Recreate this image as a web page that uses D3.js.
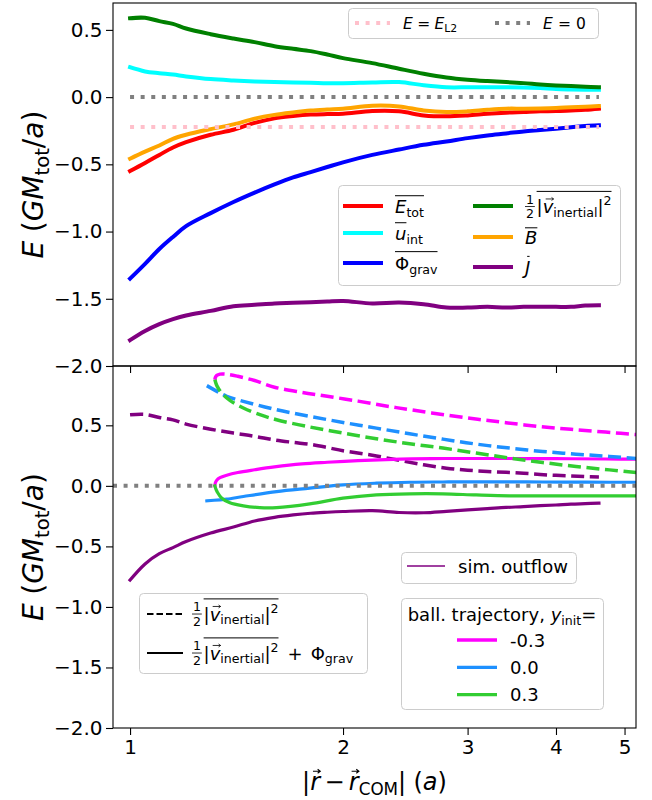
<!DOCTYPE html>
<html>
<head>
<meta charset="utf-8">
<script src="https://cdn.jsdelivr.net/npm/d3@7"></script>
<style>
  html, body { margin: 0; padding: 0; background: #fff; }
  svg text { font-family: "DejaVu Sans", sans-serif; white-space: pre; }
</style>
</head>
<body>
<svg id="chart" width="652" height="800"></svg>
<script>
// ---------- simulation radial profiles (energies in G M_tot / a) ----------
const radius   = [1.0, 1.05, 1.1, 1.15, 1.2, 1.3, 1.4, 1.5, 1.6, 1.7, 1.8, 1.9, 2.0, 2.2, 2.4, 2.6, 2.8, 3.0, 3.2, 3.4, 3.6, 3.8, 4.0, 4.2, 4.4, 4.6];
const eTot     = [-0.55, -0.49, -0.43, -0.375, -0.335, -0.28, -0.243, -0.192, -0.158, -0.141, -0.13, -0.126, -0.124, -0.104, -0.106, -0.136, -0.143, -0.136, -0.124, -0.116, -0.111, -0.106, -0.104, -0.099, -0.094, -0.086];
const uInt     = [0.222, 0.191, 0.178, 0.168, 0.154, 0.134, 0.124, 0.117, 0.112, 0.109, 0.107, 0.104, 0.104, 0.109, 0.112, 0.088, 0.073, 0.073, 0.074, 0.074, 0.072, 0.067, 0.06, 0.057, 0.055, 0.055];
const phiGrav  = [-1.35, -1.24, -1.13, -1.04, -0.96, -0.863, -0.78, -0.71, -0.649, -0.597, -0.558, -0.52, -0.485, -0.43, -0.39, -0.355, -0.33, -0.305, -0.285, -0.27, -0.255, -0.245, -0.235, -0.225, -0.215, -0.21];
const kinetic  = [0.587, 0.59, 0.565, 0.545, 0.51, 0.468, 0.436, 0.409, 0.379, 0.359, 0.342, 0.317, 0.29, 0.253, 0.211, 0.174, 0.146, 0.129, 0.119, 0.112, 0.104, 0.094, 0.087, 0.082, 0.077, 0.074];
const magB     = [-0.458, -0.405, -0.36, -0.31, -0.28, -0.238, -0.203, -0.16, -0.132, -0.114, -0.1, -0.092, -0.086, -0.064, -0.069, -0.099, -0.111, -0.106, -0.094, -0.086, -0.086, -0.084, -0.081, -0.076, -0.072, -0.067];
const bernJ    = [-1.808, -1.74, -1.689, -1.652, -1.624, -1.59, -1.555, -1.545, -1.535, -1.53, -1.525, -1.52, -1.516, -1.535, -1.528, -1.54, -1.565, -1.565, -1.56, -1.565, -1.56, -1.56, -1.56, -1.56, -1.55, -1.548];
const outflowTotal = [-0.778, -0.645, -0.56, -0.51, -0.46, -0.39, -0.34, -0.29, -0.26, -0.24, -0.226, -0.218, -0.212, -0.205, -0.22, -0.222, -0.21, -0.198, -0.188, -0.178, -0.172, -0.164, -0.158, -0.151, -0.147, -0.143];
const eL2 = -0.223;

// ---------- ballistic trajectories (parametric in radius) ----------
const ballInit = ["-0.3", "0.0", "0.3"];
const ballRadiusM03 = [1.318, 1.320, 1.326, 1.340, 1.370, 1.420, 1.500, 1.600, 1.750, 1.900, 2.100, 2.300, 2.500, 2.800, 3.100, 3.400, 3.800, 4.200, 4.700, 5.300];
const ballKinM03    = [0.877, 0.895, 0.912, 0.923, 0.922, 0.905, 0.870, 0.815, 0.772, 0.740, 0.700, 0.660, 0.627, 0.585, 0.550, 0.522, 0.489, 0.467, 0.444, 0.420];
const ballTotM03    = [0.000, 0.025, 0.047, 0.068, 0.088, 0.110, 0.133, 0.157, 0.182, 0.195, 0.208, 0.217, 0.223, 0.226, 0.226, 0.226, 0.225, 0.224, 0.222, 0.220];
const ballRadius00  = [1.284, 1.340, 1.370, 1.446, 1.611, 1.795, 2.000, 2.229, 2.484, 2.768, 3.085, 3.440, 3.830, 4.270, 4.760, 5.300];
const ballKin00     = [0.828, 0.767, 0.740, 0.698, 0.629, 0.574, 0.524, 0.477, 0.430, 0.386, 0.345, 0.312, 0.284, 0.262, 0.243, 0.223];
const ballTot00     = [-0.124, -0.115, -0.110, -0.088, -0.047, -0.019, 0.008, 0.022, 0.030, 0.032, 0.033, 0.033, 0.032, 0.031, 0.030, 0.030];
const ballRadiusP03 = [1.318, 1.322, 1.328, 1.347, 1.384, 1.446, 1.526, 1.611, 1.795, 2.000, 2.229, 2.484, 2.768, 3.085, 3.440, 3.830, 4.270, 4.760, 5.300];
const ballKinP03    = [0.877, 0.850, 0.822, 0.767, 0.706, 0.643, 0.588, 0.546, 0.486, 0.436, 0.389, 0.348, 0.312, 0.271, 0.229, 0.193, 0.160, 0.132, 0.105];
const ballTotP03    = [0.000, -0.025, -0.050, -0.100, -0.140, -0.165, -0.180, -0.180, -0.149, -0.102, -0.075, -0.066, -0.066, -0.075, -0.082, -0.083, -0.083, -0.083, -0.083];

const xTicks = [1, 2, 3, 4, 5];
const yTicks = [0.5, 0.0, -0.5, -1.0, -1.5, -2.0];

// ---------- layout ----------
const svg = d3.select("#chart");
const L = 113, R = 636;
const P1 = { t: 3, b: 366 }, P2 = { t: 366, b: 728 };

const x = d3.scaleLog().domain([0.946, 5.19]).range([L, R]);
const yTop = d3.scaleLinear().domain([-2.0, 0.7]).range([P1.b, P1.t]);
const yBot = d3.scaleLinear().domain([-2.0, 0.99]).range([P2.b, P2.t]);

const defs = svg.append("defs");
defs.append("clipPath").attr("id", "clipTop").append("rect")
  .attr("x", L).attr("y", P1.t).attr("width", R - L).attr("height", P1.b - P1.t);
defs.append("clipPath").attr("id", "clipBot").append("rect")
  .attr("x", L).attr("y", P2.t).attr("width", R - L).attr("height", P2.b - P2.t);

// ---------- small mathtext-like renderer ----------
function mathText(parent, tokens, o) {
  const size = o.size, color = o.color || "#000";
  let tf = `translate(${o.x},${o.y})`;
  if (o.rotate) tf += ` rotate(${o.rotate})`;
  const outer = parent.append("g").attr("transform", tf);
  const g = outer.append("g");
  let cx = 0;
  const stack = [], bars = [];
  for (const tok of tokens) {
    if (tok.sp !== undefined) { cx += tok.sp * size; continue; }
    if (tok.ol === "(") { stack.push(cx); continue; }
    if (tok.ol === ")") {
      const x0 = stack.pop();
      const inset = (tok.inset || 0) * size, shift = (tok.shift || 0) * size;
      bars.push([x0 + inset + shift, cx - inset + shift, tok.h || 0.96]);
      continue;
    }
    if (tok.frac) {
      const fs = size * 0.7;
      const a = g.append("text").attr("font-size", fs).attr("fill", color).text(tok.frac[0]);
      const b = g.append("text").attr("font-size", fs).attr("fill", color).text(tok.frac[1]);
      const wa = a.node().getComputedTextLength(), wb = b.node().getComputedTextLength();
      const w = Math.max(wa, wb) + size * 0.1;
      a.attr("x", cx + (w - wa) / 2).attr("y", -size * 0.52);
      b.attr("x", cx + (w - wb) / 2).attr("y", size * 0.3);
      g.append("line").attr("x1", cx).attr("x2", cx + w)
        .attr("y1", -size * 0.36).attr("y2", -size * 0.36)
        .attr("stroke", color).attr("stroke-width", Math.max(0.8, size * 0.045));
      cx += w + size * 0.1;
      continue;
    }
    const small = tok.sub || tok.sup;
    const fs = small ? size * 0.7 : size;
    const dy = tok.sub ? size * 0.22 : (tok.sup ? -size * 0.42 : 0);
    const t = g.append("text").attr("x", cx).attr("y", dy).attr("font-size", fs)
      .attr("xml:space", "preserve").attr("fill", color).text(tok.t);
    if (tok.it) t.attr("font-style", "italic");
    const w = t.node().getComputedTextLength();
    if (tok.vec) {
      const ay = -size * 0.78, x0 = cx + w * 0.28, x1 = cx + w * 1.02, hs = size * 0.11;
      g.append("path")
        .attr("d", `M${x0},${ay}L${x1},${ay}M${x1 - hs},${ay - hs * 0.75}L${x1},${ay}L${x1 - hs},${ay + hs * 0.75}`)
        .attr("fill", "none").attr("stroke", color).attr("stroke-width", Math.max(0.8, size * 0.045));
    }
    cx += w + (tok.ic || 0) * size;
  }
  bars.forEach(([a, b, h]) => {
    g.append("line").attr("x1", a).attr("x2", b).attr("y1", -size * h).attr("y2", -size * h)
      .attr("stroke", color).attr("stroke-width", Math.max(1, size * 0.055));
  });
  if (o.anchor === "middle") g.attr("transform", `translate(${-cx / 2},0)`);
  else if (o.anchor === "end") g.attr("transform", `translate(${-cx},0)`);
  return cx;
}

function legendBox(parent, x0, y0, x1, y1) {
  parent.append("rect")
    .attr("x", x0 + 0.5).attr("y", y0 + 0.5)
    .attr("width", x1 - x0).attr("height", y1 - y0)
    .attr("rx", 4).attr("ry", 4)
    .attr("fill", "#fff").attr("fill-opacity", 0.8)
    .attr("stroke", "#cccccc").attr("stroke-width", 1);
}

// ---------- line helpers ----------
const profile = vals => radius.map((r, i) => ({ r, v: vals[i] }));
const zipRV = (rs, vs) => rs.map((r, i) => ({ r, v: vs[i] }));
const smooth = d3.curveCatmullRom.alpha(0.5);
const lineTop = d3.line().x(d => x(d.r)).y(d => yTop(d.v)).curve(smooth);
const lineBot = d3.line().x(d => x(d.r)).y(d => yBot(d.v)).curve(smooth);

function drawPath(g, d, color, width, dash, cap) {
  const p = g.append("path").attr("d", d).attr("fill", "none")
    .attr("stroke", color).attr("stroke-width", width)
    .attr("stroke-linejoin", "round")
    .attr("stroke-linecap", cap || (dash ? "butt" : "square"));
  if (dash) p.attr("stroke-dasharray", dash);
  return p;
}

const DOT = "4,6.6";
const DASH = "13,5.6";

// ---------- top panel: energy components ----------
const gTop = svg.append("g").attr("clip-path", "url(#clipTop)");
const topSeries = [
  { vals: eTot,    color: "#ff0000" },
  { vals: uInt,    color: "#00ffff" },
  { vals: phiGrav, color: "#0000ff" },
  { vals: kinetic, color: "#008000" },
  { vals: magB,    color: "#ffa500" },
  { vals: bernJ,   color: "#800080" }
];
topSeries.forEach(s => drawPath(gTop, lineTop(profile(s.vals)), s.color, 4));

const rEnds = [radius[0], radius[radius.length - 1]];
drawPath(gTop, lineTop(rEnds.map(r => ({ r, v: eL2 }))), "pink", 4, DOT);
drawPath(gTop, lineTop(rEnds.map(r => ({ r, v: 0 }))), "#808080", 4, DOT);

// ---------- bottom panel: simulated outflow vs. ballistic trajectories ----------
const gBot = svg.append("g").attr("clip-path", "url(#clipBot)");
drawPath(gBot, lineBot(profile(kinetic)), "#800080", 3.5, DASH);
drawPath(gBot, lineBot(profile(outflowTotal)), "#800080", 3.2);

const ballTable = [
  { r: ballRadiusM03, kin: ballKinM03, tot: ballTotM03, color: "#ff00ff" },
  { r: ballRadius00,  kin: ballKin00,  tot: ballTot00,  color: "#1e90ff" },
  { r: ballRadiusP03, kin: ballKinP03, tot: ballTotP03, color: "#32cd32" }
];
ballTable.forEach(b => {
  drawPath(gBot, lineBot(zipRV(b.r, b.kin)), b.color, 3.5, DASH);
  drawPath(gBot, lineBot(zipRV(b.r, b.tot)), b.color, 3.2);
});
drawPath(gBot, lineBot(x.domain().map(r => ({ r, v: 0 }))), "#808080", 4, DOT);

// ---------- axes ----------
const fmtY = d3.format(".1f");
function styleAxis(g) {
  g.select(".domain").remove();
  g.selectAll(".tick line").attr("stroke", "#000").attr("stroke-width", 1.1);
  g.selectAll(".tick text").attr("font-size", 20).attr("fill", "#000")
    .attr("font-family", "DejaVu Sans, sans-serif");
  g.attr("font-family", null);
}
svg.append("g").attr("transform", `translate(${L},0)`)
  .call(d3.axisLeft(yTop).tickValues(yTicks).tickFormat(fmtY).tickSize(7).tickPadding(3.5).tickSizeOuter(0))
  .call(styleAxis);
svg.append("g").attr("transform", `translate(${L},0)`)
  .call(d3.axisLeft(yBot).tickValues(yTicks).tickFormat(fmtY).tickSize(7).tickPadding(3.5).tickSizeOuter(0))
  .call(styleAxis);
svg.append("g").attr("transform", `translate(0,${P1.b})`)
  .call(d3.axisBottom(x).tickValues(xTicks).tickFormat("").tickSize(7).tickSizeOuter(0))
  .call(styleAxis);
svg.append("g").attr("transform", `translate(0,${P2.b})`)
  .call(d3.axisBottom(x).tickValues(xTicks).tickFormat(d3.format("d")).tickSize(7).tickPadding(5).tickSizeOuter(0))
  .call(styleAxis);

// frames
[P1, P2].forEach(p => {
  svg.append("rect").attr("x", L).attr("y", p.t).attr("width", R - L).attr("height", p.b - p.t)
    .attr("fill", "none").attr("stroke", "#000").attr("stroke-width", 1.1);
});

// axis labels
const yLabelTokens = [
  { t: "E", it: 1 }, { sp: 0.3 }, { t: "(" }, { t: "GM", it: 1 }, { t: "tot", sub: 1 },
  { t: "/" }, { t: "a", it: 1 }, { t: ")" }
];
mathText(svg, yLabelTokens, { x: 43, y: (P1.t + P1.b) / 2, size: 28, rotate: -90, anchor: "middle" });
mathText(svg, yLabelTokens, { x: 43, y: (P2.t + P2.b) / 2, size: 28, rotate: -90, anchor: "middle" });
mathText(svg, [
  { t: "|" }, { t: "r", it: 1, vec: 1 }, { sp: 0.18 }, { t: "\u2212" }, { sp: 0.18 },
  { t: "r", it: 1, vec: 1 }, { t: "COM", sub: 1 }, { t: "|" }, { sp: 0.3 },
  { t: "(" }, { t: "a", it: 1 }, { t: ")" }
], { x: (L + R) / 2, y: 790, size: 24, anchor: "middle" });

// ---------- legends ----------
// reference-line legend (top right)
legendBox(svg, 348, 8, 598, 38);
drawPath(svg, "M355,23L390,23", "pink", 4, DOT, "butt");
mathText(svg, [{ t: "E", it: 1 }, { sp: 0.28 }, { t: "=" }, { sp: 0.28 }, { t: "E", it: 1 }, { t: "L2", sub: 1 }],
  { x: 403, y: 28.5, size: 15.5 });
drawPath(svg, "M495,23L530,23", "#808080", 4, DOT, "butt");
mathText(svg, [{ t: "E", it: 1 }, { sp: 0.33 }, { t: "=" }, { sp: 0.33 }, { t: "0" }],
  { x: 543, y: 28.5, size: 15.5 });

// energy component legend
legendBox(svg, 338, 185, 620, 285);
const kinTokens = [
  { frac: ["1", "2"] }, { ol: "(" }, { t: "|" }, { t: "v", it: 1, vec: 1 }, { t: "inertial", sub: 1 },
  { t: "|" }, { t: "2", sup: 1 }, { ol: ")", h: 1.2 }
];
const compLegend = [
  { color: "#ff0000", x: 343, y: 206, tokens: [{ ol: "(" }, { t: "E", it: 1 }, { t: "tot", sub: 1 }, { ol: ")" }] },
  { color: "#00ffff", x: 343, y: 233, tokens: [{ ol: "(" }, { t: "u", it: 1 }, { ol: ")" }, { t: "int", sub: 1 }] },
  { color: "#0000ff", x: 343, y: 263, tokens: [{ ol: "(" }, { t: "\u03A6" }, { t: "grav", sub: 1 }, { ol: ")", h: 1.02 }] },
  { color: "#008000", x: 473, y: 206, tokens: kinTokens },
  { color: "#ffa500", x: 473, y: 237, tokens: [{ ol: "(" }, { t: "B", it: 1 }, { ol: ")", h: 0.9 }] },
  { color: "#800080", x: 473, y: 267, tokens: [{ ol: "(" }, { t: "J", it: 1 }, { ol: ")", h: 0.98, inset: 0.08, shift: 0.04 }] }
];
compLegend.forEach(e => {
  drawPath(svg, `M${e.x},${e.y}L${e.x + 40},${e.y}`, e.color, 4, null, "butt");
  mathText(svg, e.tokens, { x: e.x + 52, y: e.y + 7, size: 18 });
});

// simulated outflow legend
legendBox(svg, 401, 552, 576, 583);
drawPath(svg, "M407,566L445,566", "#800080", 1.6, null, "butt");
mathText(svg, [{ t: "sim. outflow" }], { x: 458, y: 572.5, size: 18 });

// ballistic trajectory legend
legendBox(svg, 401, 598, 603, 709);
mathText(svg, [{ t: "ball. trajectory," }, { sp: 0.32 }, { t: "y", it: 1 }, { t: "init", sub: 1 }, { t: "=" }],
  { x: 502, y: 621, size: 18, anchor: "middle" });
ballInit.forEach((lab, i) => {
  const yy = 640 + i * 27.3;
  drawPath(svg, `M457,${yy}L497,${yy}`, ballTable[i].color, 3.3, null, "butt");
  mathText(svg, [{ t: lab }], { x: 510, y: yy + 6.5, size: 18 });
});

// line-style legend
legendBox(svg, 139, 593, 367, 673);
drawPath(svg, "M147,614L183,614", "#000", 2, "6.5,3", "butt");
mathText(svg, kinTokens, { x: 192, y: 620.5, size: 18 });
drawPath(svg, "M147,653L183,653", "#000", 2, null, "butt");
mathText(svg, kinTokens.concat([{ sp: 0.5 }, { t: "+" }, { sp: 0.45 }, { t: "\u03A6" }, { t: "grav", sub: 1 }]),
  { x: 192, y: 659.5, size: 18 });
</script>
</body>
</html>
